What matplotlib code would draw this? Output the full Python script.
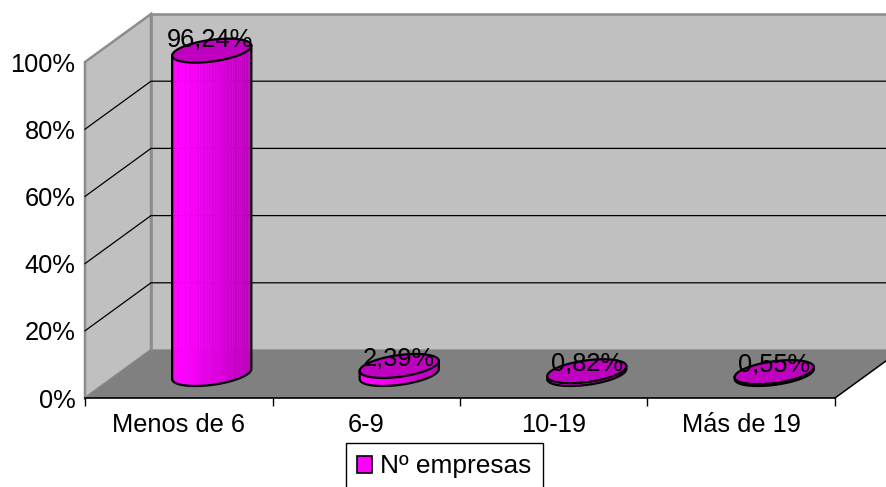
import numpy as np
import matplotlib
matplotlib.use("Agg")
import matplotlib.pyplot as plt
from matplotlib.patches import Polygon

plt.rcParams['font.family'] = ['Liberation Sans', 'DejaVu Sans']
plt.rcParams['text.hinting'] = 'no_autohint'

categories = ["Menos de 6", "6-9", "10-19", "Más de 19"]
values = [96.24, 2.39, 0.82, 0.55]
value_labels = ["96,24%", "2,39%", "0,82%", "0,55%"]
y_ticks = [0, 20, 40, 60, 80, 100]
series_name = "Nº empresas"

W, H = 887, 487
LEFT, RIGHT, TOP, BOTTOM = 85, 835, 62, 398   # front plane, in pixels
DEPTH_X = 66 / ((RIGHT - LEFT) / 4)           # back-plane shift, category units
DEPTH_Y = 48 / ((BOTTOM - TOP) / 100)         # back-plane shift, percent units

BRIGHT = "#ff00ff"
CAP = "#c000c0"
WALL = "#c0c0c0"
FLOOR = "#808080"
FONT = 18.4
LABEL_OFFSETS = [(-1.5, 7.5), (0, 5), (0, 5), (0, 5)]  # points, from cap centre


def proj(x, y, d=0.0):
    """Oblique projection: d is depth, 0 at the front and 1 at the back wall."""
    return x + d * DEPTH_X, y + d * DEPTH_Y


fig = plt.figure(figsize=(W / 100, H / 100), dpi=100)
ax = fig.add_axes([LEFT / W, 1 - BOTTOM / H, (RIGHT - LEFT) / W, (BOTTOM - TOP) / H])
ax.set_xlim(0, 4)
ax.set_ylim(0, 100)
ax.patch.set_visible(False)
for name in ("top", "left", "right"):
    ax.spines[name].set_visible(False)
ax.spines["bottom"].set_linewidth(1.2)
ax.spines["bottom"].set_zorder(6)


def poly(points, **kw):
    ax.add_patch(Polygon(points, closed=True, clip_on=False, **kw))


# Back wall, side wall and floor
xmax_back = 4
poly([proj(0, 0, 1), proj(xmax_back, 0, 1), proj(xmax_back, 100, 1), proj(0, 100, 1)],
     facecolor=WALL, edgecolor="#8c8c8c", linewidth=1.8, zorder=1)
poly([proj(0, 0, 0), proj(0, 0, 1), proj(0, 100, 1), proj(0, 100, 0)],
     facecolor=WALL, edgecolor="#8c8c8c", linewidth=1.8, zorder=1)
poly([proj(0, 0, 0), proj(4, 0, 0), proj(4, 0, 1), proj(0, 0, 1)],
     facecolor=FLOOR, edgecolor="none", zorder=2)
ax.plot(*zip(proj(4, 0, 0), proj(4, 0, 1)), color="black", lw=1.1, clip_on=False, zorder=3)

# Gridlines across the side wall and along the back wall
for v in y_ticks[1:-1]:
    ax.plot(*zip(proj(0, v, 0), proj(0, v, 1), proj(4, v, 1)),
            color="black", lw=0.9, clip_on=False, zorder=2)

# Cylinders
RADIUS_X = 0.192
RADIUS_D = 0.25
CENTER_D = 0.5
SHADES = ["#ff00ff", "#ff00ff", "#f800f8", "#f000f0", "#e800e8",
          "#e000e0", "#d800d8", "#d000d0", "#c800c8", "#c000c0"]


def rim(center, level, t):
    px = center + RADIUS_X * np.cos(t) + DEPTH_X * RADIUS_D * np.sin(t)
    py = level + DEPTH_Y * RADIUS_D * np.sin(t)
    return proj(px, py, CENTER_D)


t_right = np.arctan2(DEPTH_X * RADIUS_D, RADIUS_X)
for i, value in enumerate(values):
    c = i + 0.5
    edges = np.linspace(t_right + np.pi, t_right + 2 * np.pi, 41)
    for j in range(len(edges) - 1):
        seg = np.linspace(edges[j], edges[j + 1], 3)
        lo = np.column_stack(rim(c, 0, seg))
        hi = np.column_stack(rim(c, value, seg[::-1]))
        frac = (lo[1, 0] - rim(c, 0, edges[0])[0]) / (rim(c, 0, edges[-1])[0] - rim(c, 0, edges[0])[0])
        col = SHADES[min(int(frac * len(SHADES)), len(SHADES) - 1)]
        poly(np.vstack([lo, hi]), facecolor=col, edgecolor=col, linewidth=0.3, zorder=4)
    front = np.linspace(t_right + np.pi, t_right + 2 * np.pi, 80)
    outline = np.vstack([np.column_stack(rim(c, value, front[:1])),
                         np.column_stack(rim(c, 0, front)),
                         np.column_stack(rim(c, value, front[-1:]))])
    ax.plot(outline[:, 0], outline[:, 1], color="black", lw=1.6, clip_on=False,
            zorder=5, solid_joinstyle="round")
    full = np.linspace(0, 2 * np.pi, 120)
    poly(np.column_stack(rim(c, value, full)), facecolor=CAP, edgecolor="black",
         linewidth=1.6, zorder=5)
    ax.annotate(value_labels[i], xy=proj(c, value, CENTER_D), xytext=LABEL_OFFSETS[i],
                textcoords="offset points", ha="center", va="center",
                fontsize=FONT, color="black", zorder=7, annotation_clip=False)

# Axes
ax.set_xticks(range(5))
ax.set_xticklabels([])
ax.set_xticks([i + 0.5 for i in range(4)], categories, minor=True, fontsize=FONT)
ax.tick_params(axis="x", which="major", length=5.5, width=1, color="black")
ax.tick_params(axis="x", which="minor", length=0, pad=11)
ax.set_yticks(y_ticks)
ax.set_yticklabels([f"{v}%" for v in y_ticks], fontsize=FONT)
ax.tick_params(axis="y", length=0, pad=7)

# Legend
handle = Polygon([(0, 0)], facecolor=BRIGHT, edgecolor="black", linewidth=1.2, label=series_name)
fig.legend(handles=[handle], loc="center", bbox_to_anchor=(444.5 / W, 1 - 466.5 / H),
           fontsize=18.9, frameon=True, fancybox=False, edgecolor="black", framealpha=1,
           handlelength=0.55, handleheight=0.6, handletextpad=0.32, borderpad=0.42,
           borderaxespad=0).get_frame().set_linewidth(1.0)

fig.savefig("out.png", dpi=100, facecolor="white")
